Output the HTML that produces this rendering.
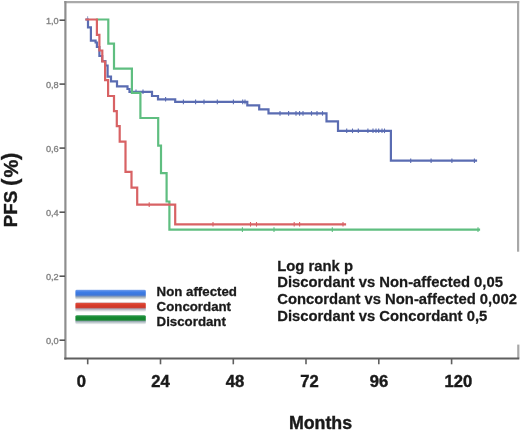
<!DOCTYPE html>
<html><head><meta charset="utf-8"><title>PFS Kaplan-Meier</title>
<style>
html,body{margin:0;padding:0;background:#fff;}
body{width:520px;height:431px;overflow:hidden;font-family:"Liberation Sans",sans-serif;}
svg{display:block;filter:blur(0.5px);}
</style></head><body>
<svg width="520" height="431" viewBox="0 0 520 431"><g fill="none" stroke-linecap="butt"><line x1="64.3" y1="2.1" x2="519.2" y2="2.1" stroke="#aaaaaa" stroke-width="2.2"/><line x1="518.1" y1="1" x2="518.1" y2="251.7" stroke="#a8a8a8" stroke-width="2.2"/><line x1="518.3" y1="344.6" x2="518.3" y2="358.5" stroke="#a8a8a8" stroke-width="2.2"/><line x1="65.4" y1="1" x2="65.4" y2="359.6" stroke="#8e8e8e" stroke-width="2.2"/><line x1="64.3" y1="358.5" x2="519.3" y2="358.5" stroke="#5f5f5f" stroke-width="2"/></g><g stroke="#555" stroke-width="1.6"><line x1="59.5" y1="20.2" x2="65" y2="20.2"/><line x1="59.5" y1="84.1" x2="65" y2="84.1"/><line x1="59.5" y1="148.1" x2="65" y2="148.1"/><line x1="59.5" y1="212.2" x2="65" y2="212.2"/><line x1="59.5" y1="276.2" x2="65" y2="276.2"/><line x1="59.5" y1="340.2" x2="65" y2="340.2"/></g><g font-family="Liberation Sans, sans-serif" font-size="9.2" fill="#767676" stroke="#8a8a8a" stroke-width="0.35" text-anchor="end"><text x="58.7" y="23.7">1,0</text><text x="58.7" y="87.6">0,8</text><text x="58.7" y="151.6">0,6</text><text x="58.7" y="215.7">0,4</text><text x="58.7" y="279.7">0,2</text><text x="58.7" y="343.7">0,0</text></g><g stroke="#5f5f5f" stroke-width="1.6"><line x1="87.7" y1="358" x2="87.7" y2="364.3"/><line x1="160.5" y1="358" x2="160.5" y2="364.3"/><line x1="233.3" y1="358" x2="233.3" y2="364.3"/><line x1="306.0" y1="358" x2="306.0" y2="364.3"/><line x1="378.8" y1="358" x2="378.8" y2="364.3"/><line x1="451.6" y1="358" x2="451.6" y2="364.3"/></g><g font-family="Liberation Sans, sans-serif" font-weight="bold" font-size="16.6" fill="#1a1a1a" stroke="#1a1a1a" stroke-width="0.45" text-anchor="middle"><text x="81.3" y="387.2">0</text><text x="160.4" y="387.2">24</text><text x="235" y="387.2">48</text><text x="309.6" y="387.2">72</text><text x="378.9" y="387.2">96</text><text x="458.4" y="387.2">120</text></g><text x="288.9" y="429.1" font-family="Liberation Sans, sans-serif" font-weight="bold" font-size="17.8" fill="#1a1a1a" stroke="#1a1a1a" stroke-width="0.4">Months</text><g font-family="Liberation Sans, sans-serif" font-weight="bold" fill="#1a1a1a" stroke="#1a1a1a" stroke-width="0.35"><text transform="translate(16.9,227.2) rotate(-90)" font-size="18.8">PFS</text><text transform="translate(17.3,186.0) rotate(-90)" font-size="22.5">(</text><text transform="translate(17.5,177.6) rotate(-90)" font-size="20">%</text><text transform="translate(17.3,160.1) rotate(-90)" font-size="22.5">)</text></g><polyline points="86.5,19.5 88.0,19.5 88.0,27.4 90.9,27.4 90.9,40.7 95.6,40.7 95.6,42.5 96.9,42.5 96.9,47.0 99.4,47.0 99.4,56.0 102.2,56.0 102.2,61.2 105.4,61.2 105.4,65.5 107.6,65.5 107.6,76.7 111.0,76.7 111.0,81.4 117.0,81.4 117.0,86.4 127.5,86.4 127.5,89.0 129.5,89.0 129.5,91.8 152.0,91.8 152.0,96.0 158.0,96.0 158.0,99.3 175.2,99.3 175.2,101.9 247.3,101.9 247.3,105.3 259.2,105.3 259.2,109.4 268.5,109.4 268.5,113.4 326.5,113.4 326.5,121.3 338.0,121.3 338.0,130.8 390.9,130.8 390.9,160.7 476.0,160.7" fill="none" stroke="#5a6cb2" stroke-width="2.2" stroke-linejoin="miter" stroke-linecap="square"/><g stroke="#5a6cb2" stroke-width="1.1"><line x1="136.0" y1="89.5" x2="136.0" y2="94.1"/><line x1="143.0" y1="89.5" x2="143.0" y2="94.1"/><line x1="165.6" y1="97.0" x2="165.6" y2="101.6"/><line x1="183.4" y1="99.6" x2="183.4" y2="104.2"/><line x1="195.6" y1="99.6" x2="195.6" y2="104.2"/><line x1="204.0" y1="99.6" x2="204.0" y2="104.2"/><line x1="217.3" y1="99.6" x2="217.3" y2="104.2"/><line x1="233.4" y1="99.6" x2="233.4" y2="104.2"/><line x1="242.7" y1="99.6" x2="242.7" y2="104.2"/><line x1="245.0" y1="99.6" x2="245.0" y2="104.2"/><line x1="280.0" y1="111.1" x2="280.0" y2="115.7"/><line x1="288.6" y1="111.1" x2="288.6" y2="115.7"/><line x1="296.0" y1="111.1" x2="296.0" y2="115.7"/><line x1="299.6" y1="111.1" x2="299.6" y2="115.7"/><line x1="303.0" y1="111.1" x2="303.0" y2="115.7"/><line x1="311.5" y1="111.1" x2="311.5" y2="115.7"/><line x1="317.0" y1="111.1" x2="317.0" y2="115.7"/><line x1="322.5" y1="111.1" x2="322.5" y2="115.7"/><line x1="346.7" y1="128.5" x2="346.7" y2="133.1"/><line x1="352.5" y1="128.5" x2="352.5" y2="133.1"/><line x1="358.3" y1="128.5" x2="358.3" y2="133.1"/><line x1="367.9" y1="128.5" x2="367.9" y2="133.1"/><line x1="373.0" y1="128.5" x2="373.0" y2="133.1"/><line x1="376.0" y1="128.5" x2="376.0" y2="133.1"/><line x1="378.7" y1="128.5" x2="378.7" y2="133.1"/><line x1="382.0" y1="128.5" x2="382.0" y2="133.1"/><line x1="384.5" y1="128.5" x2="384.5" y2="133.1"/><line x1="410.7" y1="158.4" x2="410.7" y2="163.0"/><line x1="431.1" y1="158.4" x2="431.1" y2="163.0"/><line x1="451.9" y1="158.4" x2="451.9" y2="163.0"/><line x1="474.4" y1="158.4" x2="474.4" y2="163.0"/></g><line x1="87.6" y1="16.2" x2="87.6" y2="19" stroke="#5a6cb2" stroke-width="1.1" opacity="0.6"/><polyline points="97.0,19.5 108.3,19.5 108.3,43.6 114.0,43.6 114.0,68.6 131.9,68.6 131.9,92.9 140.4,92.9 140.4,118.0 158.2,118.0 158.2,145.7 161.0,145.7 161.0,173.1 166.6,173.1 166.6,201.5 169.4,201.5 169.4,229.6 479.0,229.6" fill="none" stroke="#5fbe80" stroke-width="2.2" stroke-linejoin="miter" stroke-linecap="square"/><g stroke="#5fbe80" stroke-width="1.1"><line x1="242.4" y1="227.3" x2="242.4" y2="231.9"/><line x1="274.0" y1="227.3" x2="274.0" y2="231.9"/><line x1="332.3" y1="227.3" x2="332.3" y2="231.9"/><line x1="478.0" y1="227.3" x2="478.0" y2="231.9"/></g><polyline points="86.5,19.5 96.9,19.5 96.9,34.8 99.4,34.8 99.4,50.5 102.3,50.5 102.3,61.5 105.1,61.5 105.1,80.2 108.1,80.2 108.1,96.0 114.0,96.0 114.0,111.1 116.8,111.1 116.8,126.1 119.7,126.1 119.7,141.7 125.5,141.7 125.5,171.9 131.5,171.9 131.5,187.6 137.2,187.6 137.2,204.6 175.2,204.6 175.2,224.3 345.0,224.3" fill="none" stroke="#d86264" stroke-width="2.2" stroke-linejoin="miter" stroke-linecap="square"/><g stroke="#d86264" stroke-width="1.1"><line x1="149.2" y1="202.3" x2="149.2" y2="206.9"/><line x1="213.0" y1="222.0" x2="213.0" y2="226.6"/><line x1="250.5" y1="222.0" x2="250.5" y2="226.6"/><line x1="256.5" y1="222.0" x2="256.5" y2="226.6"/><line x1="294.2" y1="222.0" x2="294.2" y2="226.6"/><line x1="299.6" y1="222.0" x2="299.6" y2="226.6"/><line x1="343.0" y1="222.0" x2="343.0" y2="226.6"/></g><defs><linearGradient id="gb" x1="0" y1="0" x2="0" y2="1"><stop offset="0" stop-color="#c4d6f6"/><stop offset="0.1" stop-color="#5a8ee9"/><stop offset="0.3" stop-color="#3b7be6"/><stop offset="0.55" stop-color="#3f76d6"/><stop offset="0.7" stop-color="#8a9db8"/><stop offset="0.85" stop-color="#c6cecd"/><stop offset="1" stop-color="#f0f2f2"/></linearGradient><linearGradient id="gr" x1="0" y1="0" x2="0" y2="1"><stop offset="0" stop-color="#d8ccd4"/><stop offset="0.1" stop-color="#dc5040"/><stop offset="0.3" stop-color="#d93a29"/><stop offset="0.55" stop-color="#cc3b30"/><stop offset="0.7" stop-color="#a8a4b4"/><stop offset="0.85" stop-color="#d2d2d8"/><stop offset="1" stop-color="#f2f2f2"/></linearGradient><linearGradient id="gg" x1="0" y1="0" x2="0" y2="1"><stop offset="0" stop-color="#c8e6d8"/><stop offset="0.1" stop-color="#2a9446"/><stop offset="0.3" stop-color="#12892e"/><stop offset="0.55" stop-color="#1a8434"/><stop offset="0.7" stop-color="#9aacb4"/><stop offset="0.85" stop-color="#ccd4d8"/><stop offset="1" stop-color="#f2f4f4"/></linearGradient></defs><rect x="75.4" y="289.6" width="70.4" height="10" rx="1.5" fill="url(#gb)"/><rect x="75.4" y="302.3" width="70.4" height="9.4" rx="1.5" fill="url(#gr)"/><rect x="75.4" y="314.9" width="70.4" height="9.4" rx="1.5" fill="url(#gg)"/><g font-family="Liberation Sans, sans-serif" font-weight="bold" font-size="13" fill="#1a1a1a" stroke="#1a1a1a" stroke-width="0.3" transform="translate(156.6,0) scale(1.022,1)"><text x="0" y="296.5">Non affected</text><text x="0" y="311">Concordant</text><text x="0" y="325.9">Discordant</text></g><g font-family="Liberation Sans, sans-serif" font-weight="bold" font-size="14.4" fill="#1a1a1a" stroke="#1a1a1a" stroke-width="0.25" transform="translate(277.2,0) scale(1.03,1)"><text x="0" y="271.1">Log rank p</text><text x="0" y="287.4">Discordant vs Non-affected 0,05</text><text x="0" y="303.7">Concordant vs Non-affected 0,002</text><text x="0" y="321.2">Discordant vs Concordant 0,5</text></g></svg>
</body></html>
